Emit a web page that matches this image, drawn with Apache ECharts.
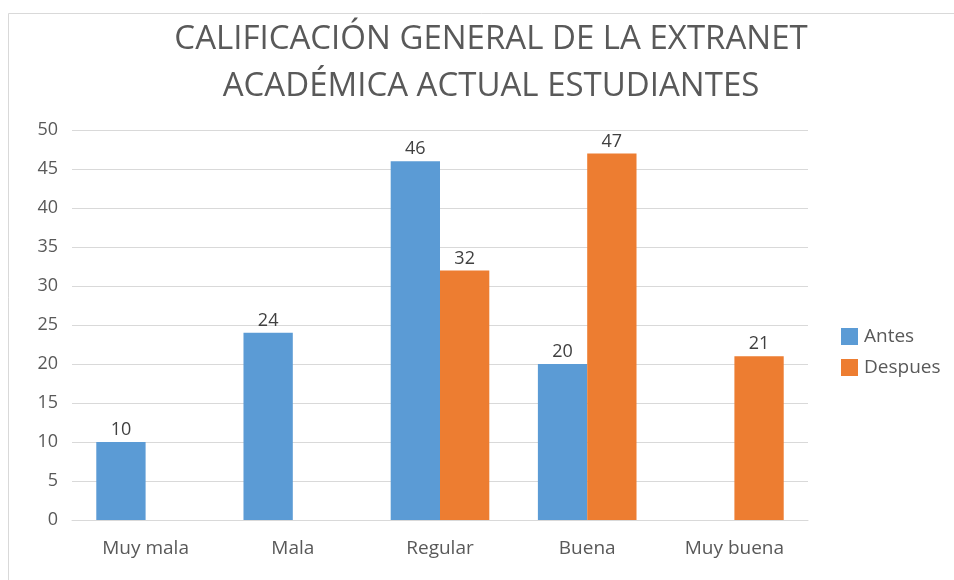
<!DOCTYPE html>
<html>
<head>
<meta charset="utf-8">
<script src="https://cdn.jsdelivr.net/npm/echarts@6/dist/echarts.min.js"></script>
<style>
  html, body { margin: 0; padding: 0; background: #ffffff; }
  #chart { width: 954px; height: 580px; }
</style>
</head>
<body>
<div id="chart"></div>
<script>
// Ratings of the academic extranet, before and after
const categories = ['Muy mala', 'Mala', 'Regular', 'Buena', 'Muy buena'];
const antes = [10, 24, 46, 20, null];
const despues = [null, null, 32, 47, 21];
const seriesNames = ['Antes', 'Despues'];
const titleLines = ['CALIFICACIÓN GENERAL DE LA EXTRANET', 'ACADÉMICA ACTUAL ESTUDIANTES'];

const textColor = '#595959';
const font = 'Open Sans';

const chart = echarts.init(document.getElementById('chart'), null, { renderer: 'canvas' });

const barLabel = {
  show: true,
  position: 'top',
  distance: 3,
  color: '#404040',
  fontFamily: font,
  fontSize: 18
};

chart.setOption({
  animation: false,
  backgroundColor: '#ffffff',
  graphic: [{
    type: 'rect',
    shape: { x: 8.5, y: 13.5, width: 960, height: 600 },
    style: { fill: 'none', stroke: '#d9d9d9', lineWidth: 1 },
    silent: true
  }],
  title: {
    text: titleLines.join('\n'),
    left: 486,
    textAlign: 'center',
    top: 11,
    textStyle: {
      color: textColor,
      fontFamily: font,
      fontWeight: 'normal',
      fontSize: 33,
      lineHeight: 47
    }
  },
  legend: {
    data: seriesNames,
    orient: 'vertical',
    left: 836,
    top: 322,
    itemWidth: 17,
    itemHeight: 17,
    itemGap: 12,
    icon: 'rect',
    textStyle: { color: textColor, fontFamily: font, fontSize: 19, padding: [0, 0, 0, 1] }
  },
  grid: { left: 72, right: 146, top: 130, bottom: 60, containLabel: false },
  xAxis: {
    type: 'category',
    data: categories,
    axisLine: { show: true, lineStyle: { color: '#d9d9d9', width: 1 } },
    axisTick: { show: false },
    axisLabel: { color: textColor, fontFamily: font, fontSize: 19, margin: 19 }
  },
  yAxis: {
    type: 'value',
    min: 0,
    max: 50,
    interval: 5,
    axisLine: { show: false },
    axisTick: { show: false },
    axisLabel: { color: textColor, fontFamily: font, fontSize: 18, margin: 14 },
    splitLine: { lineStyle: { color: '#d9d9d9', width: 1 } }
  },
  series: [
    {
      name: seriesNames[0],
      type: 'bar',
      data: antes,
      barGap: '0%',
      barCategoryGap: '33%',
      itemStyle: { color: '#5B9BD5' },
      label: barLabel
    },
    {
      name: seriesNames[1],
      type: 'bar',
      data: despues,
      barGap: '0%',
      barCategoryGap: '33%',
      itemStyle: { color: '#ED7D31' },
      label: barLabel
    }
  ]
});
</script>
</body>
</html>
